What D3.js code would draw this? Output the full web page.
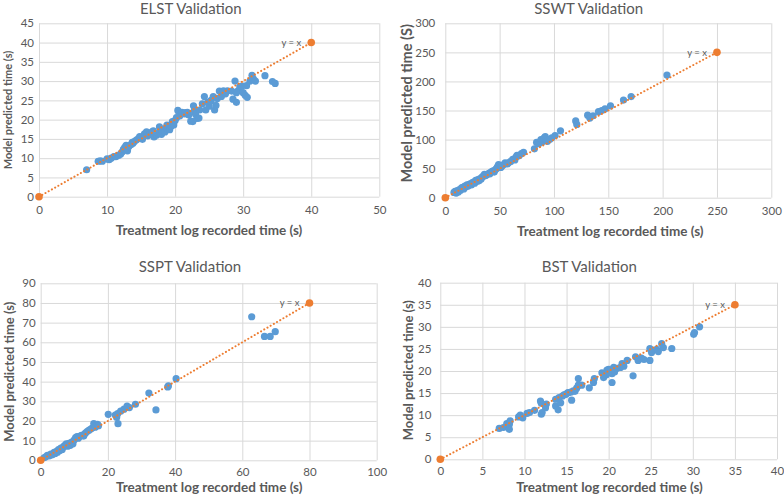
<!DOCTYPE html>
<html><head><meta charset="utf-8">
<script src="https://cdn.jsdelivr.net/npm/d3@7/dist/d3.min.js"></script>
<style>
body{margin:0;background:#fff}
text{font-family:Lato,"Open Sans",sans-serif;fill:#595959}
</style>
</head><body><svg id="c" width="784" height="502"></svg>
<script>
// ---------- DATA ----------
const titles = ["ELST Validation", "SSWT Validation", "SSPT Validation", "BST Validation"];
const xAxisTitles = ["Treatment log recorded time (s)", "Treatment log recorded time (s)", "Treatment log recorded time (s)", "Treatment log recorded time (s)"];
const yAxisTitles = ["Model predicted time (s)", "Model predicted time (S)", "Model predicted time (s)", "Model predicted time (s)"];
const refLabel = "y = x";

const elstXTicks = [0, 10, 20, 30, 40, 50];
const elstYTicks = [0, 5, 10, 15, 20, 25, 30, 35, 40, 45];
const sswtXTicks = [0, 50, 100, 150, 200, 250, 300];
const sswtYTicks = [0, 50, 100, 150, 200, 250, 300];
const ssptXTicks = [0, 20, 40, 60, 80, 100];
const ssptYTicks = [0, 10, 20, 30, 40, 50, 60, 70, 80, 90];
const bstXTicks = [0, 5, 10, 15, 20, 25, 30, 35, 40];
const bstYTicks = [0, 5, 10, 15, 20, 25, 30, 35, 40];

// end of the y = x reference line (starts at 0,0)
const refLineEnds = [40, 250, 80, 35];

const elstData = [[7,7],[8.7,9.2],[9,9.3],[9.3,9.2],[10,9.8],[10.3,9.6],[10.6,10],[11,10.4],[11.3,10.4],[11.7,10.7],[12,11.1],[12.2,11.6],[12.4,12.3],[12.6,12.8],[12.8,13.3],[13,11.9],[13.2,13],[13.5,13.5],[13.8,13.9],[14,14.3],[14.3,14.7],[14.6,15.1],[15,15.4],[15.2,14.9],[15.5,16.3],[15.8,16.8],[16,15.8],[16.3,16.2],[16.6,16.8],[16.9,15.5],[17.1,16.3],[17.3,16],[17.6,16.5],[17.7,18.1],[18,16.2],[18.1,17],[18.3,17.4],[18.5,16.8],[18.7,17.9],[18.8,18.6],[19,18],[19.2,17.4],[19.4,18.3],[19.6,19.5],[19.8,18.6],[20,19.8],[20.2,20.5],[20.4,22.4],[20.7,21],[21,21.9],[21.4,21.5],[21.8,21.9],[22,21.2],[22.3,19.6],[22.6,19.5],[22.7,23.6],[22.8,22.3],[23,21.4],[23.2,20.3],[23.5,20.4],[23.6,22.5],[24,24.1],[24.3,26],[24.5,22.5],[24.8,24.5],[25,23.5],[25.3,25],[25.6,26],[25.8,22.5],[26,23.7],[26.2,25.5],[26.5,27.4],[26.8,26],[27.1,27.5],[27.4,26.7],[27.7,27.5],[28.3,27.4],[28.5,25.3],[28.8,30],[29,24.5],[29.2,27.4],[29.5,28.5],[29.8,28.7],[30,27],[30.3,26.3],[30.5,28.8],[30.6,25.8],[31,30],[31.3,31.5],[31.5,30.5],[31.8,30],[33.2,31.4],[34.3,29.9],[34.7,29.4],[14.8,15.6],[21.5,21.8],[25.2,24.8],[29,27],[16.8,17.1],[13.7,14.1]];

const sswtData = [[8,9],[9,11],[10,8],[11,12],[12,10],[13,14],[14,13],[15,17],[16,18],[17,15],[18,20],[19,19],[20,22],[21,20],[22,23],[23,24],[24,22],[25,26],[26,27],[27,25],[28,30],[29,28],[30,31],[31,29],[32,33],[33,32],[34,36],[35,37],[36,40],[37,38],[38,39],[40,42],[41,41],[42,44],[43,45],[44,46],[45,44],[46,48],[47,50],[48,53],[49,57],[50,55],[51,52],[52,54],[53,56],[55,60],[57,58],[58,60],[60,62],[62,66],[64,65],[65,70],[66,73],[68,72],[70,76],[72,78],[82,84],[84,95],[86,93],[88,100],[89,96],[90,98],[91,103],[92,105],[94,97],[96,100],[98,103],[101,107],[106,115],[120,132],[121,126],[131,142],[133,137],[136,141],[141,148],[144,150],[147,153],[152,158],[164,168],[171,174],[204,211]];

const ssptData = [[1,1.3],[1.5,1.8],[2,2.5],[2.5,2.2],[3,3.2],[3.5,2.8],[4,4],[4.3,3.5],[4.7,4.6],[5,4.1],[5.3,5.4],[5.7,5],[6,6.2],[6.4,5.5],[6.8,7],[7.2,7.6],[7.6,8.4],[8,7.2],[8.4,8.6],[8.8,7.6],[9.2,9.2],[9.6,8.4],[10,10.4],[10.4,11.6],[10.8,12],[11.2,11.2],[11.6,12.2],[12,12.5],[12.4,12.8],[12.8,12.3],[13.3,13.8],[13.8,14.6],[14.3,15.2],[14.8,15.8],[15.3,16.4],[15.8,18.6],[16.2,16.8],[16.6,17.4],[16.9,18.3],[17.2,17.6],[20.1,23.4],[22.2,23],[22.6,21.8],[23,18.6],[22.9,23.7],[23.8,25],[24.8,26],[25.7,27.6],[26.4,26.8],[28.2,28.5],[32.2,34.2],[34.3,25.6],[37.8,37.3],[38,37.8],[40.3,41.5],[62.8,73],[66.6,63],[68.3,63],[69.8,65.4]];

const bstData = [[7,7],[7.5,7.2],[7.9,8.1],[8.2,7.9],[8.3,8.7],[8.2,6.8],[9.3,9.6],[9.5,10],[9.8,9.4],[10.3,10.4],[10.6,10.6],[11.2,11.1],[12,12.7],[11.9,13.2],[12,10.2],[12.1,10.6],[12.6,12.5],[12.5,11.7],[13.7,12.1],[14,11.2],[13.7,13.6],[14.1,14],[14.3,12.8],[14.5,14.3],[14.9,14.7],[15.2,15.1],[15.6,13.4],[15.8,15.5],[16.2,16.1],[16.4,16.8],[16.4,18.3],[16.8,16.8],[17.7,16.2],[18.2,17.4],[18.3,18.3],[19.2,19.6],[19.4,18.5],[19.7,19.1],[19.8,20.2],[20,20.4],[20.4,17.4],[20.4,19.4],[20.6,20.8],[20.7,19.8],[21.4,20.8],[21.6,21.7],[21.8,21.1],[22.2,22.4],[22.9,18.9],[23.2,23.2],[23.5,22.4],[23.9,22.9],[24.2,22.6],[24.9,22.4],[24.9,25.1],[25.1,24.2],[25.7,24.9],[25.9,24.4],[26.3,26.2],[26.5,25.3],[27.5,25.1],[30.1,28.3],[30.2,28.7],[30.8,30],[14.7,14.6],[15.1,15],[15.5,15.2],[16,15.4],[19.5,19.2],[21,20.6]];

// ---------- LAYOUT ----------
const layouts = [
  {left:39, right:379.3, top:23.3, bottom:196.7, tX:190.8, tY:14.3, xlX:209, xlY:235, ylX:8.5, ylY:110, ylSize:11, yGap:5, xPad:9},
  {left:445.3, right:771.3, top:23.3, bottom:197.7, tX:588.7, tY:14.3, xlX:610.3, xlY:235.7, ylX:407, ylY:103.3, ylSize:14.5, yGap:10, xPad:9},
  {left:40.7, right:376.7, top:283.3, bottom:460.3, tX:190, tY:271.7, xlX:209.2, xlY:492, ylX:9.3, ylY:371.8, ylSize:13, yGap:5, xPad:7.5},
  {left:440.3, right:777, top:282.7, bottom:459.3, tX:589.3, tY:271.7, xlX:609.5, xlY:492, ylX:408.7, ylY:370.2, ylSize:13, yGap:9, xPad:7.5}
];
const datasets = [elstData, sswtData, ssptData, bstData];
const xTickSets = [elstXTicks, sswtXTicks, ssptXTicks, bstXTicks];
const yTickSets = [elstYTicks, sswtYTicks, ssptYTicks, bstYTicks];

const blue = "#5b9bd5", orange = "#ed7d31", grid = "#d9d9d9";
const svg = d3.select("#c");

layouts.forEach((L, i) => {
  const xt = xTickSets[i], yt = yTickSets[i];
  const x = d3.scaleLinear().domain([xt[0], xt[xt.length-1]]).range([L.left, L.right]);
  const y = d3.scaleLinear().domain([yt[0], yt[yt.length-1]]).range([L.bottom, L.top]);
  const g = svg.append("g");

  const gx = g.append("g").attr("transform", `translate(0,${L.bottom})`)
    .call(d3.axisBottom(x).tickValues(xt).tickSize(-(L.bottom - L.top)).tickPadding(L.xPad).tickFormat(d3.format("d")));
  const gy = g.append("g").attr("transform", `translate(${L.left},0)`)
    .call(d3.axisLeft(y).tickValues(yt).tickSize(-(L.right - L.left)).tickPadding(L.yGap).tickFormat(d3.format("d")));
  [gx, gy].forEach(a => {
    a.select(".domain").remove();
    a.selectAll(".tick line").attr("stroke", grid).attr("stroke-width", 1);
    a.selectAll(".tick text").attr("fill", "#595959").style("font-size", "11.5px").style("font-family", "Lato, 'Open Sans', sans-serif");
  });

  g.append("g").selectAll("circle").data(datasets[i]).join("circle")
    .attr("cx", d => x(d[0])).attr("cy", d => y(d[1])).attr("r", 3.6).attr("fill", blue);

  const e = refLineEnds[i];
  g.append("line").attr("x1", x(0)).attr("y1", y(0)).attr("x2", x(e)).attr("y2", y(e))
    .attr("stroke", orange).attr("stroke-width", 2).attr("stroke-linecap", "round").attr("stroke-dasharray", "0.1,3.6");
  g.append("g").selectAll("circle").data([[0,0],[e,e]]).join("circle")
    .attr("cx", d => x(d[0])).attr("cy", d => y(d[1])).attr("r", 3.8).attr("fill", orange);
  g.append("text").attr("x", x(e) - 10).attr("y", y(e)).attr("dy", "0.35em")
    .attr("text-anchor", "end").style("font-size", "9.5px").text(refLabel);

  g.append("text").attr("x", L.tX).attr("y", L.tY).attr("text-anchor", "middle")
    .style("font-size", "15px").text(titles[i]);
  g.append("text").attr("x", L.xlX).attr("y", L.xlY).attr("text-anchor", "middle")
    .style("font-size", "13.5px").style("font-weight", "bold").text(xAxisTitles[i]);
  g.append("text").attr("transform", `translate(${L.ylX},${L.ylY}) rotate(-90)`).attr("dy", "0.35em")
    .attr("text-anchor", "middle").style("font-size", L.ylSize + "px").style("font-weight", "bold").text(yAxisTitles[i]);
});
</script></body></html>
